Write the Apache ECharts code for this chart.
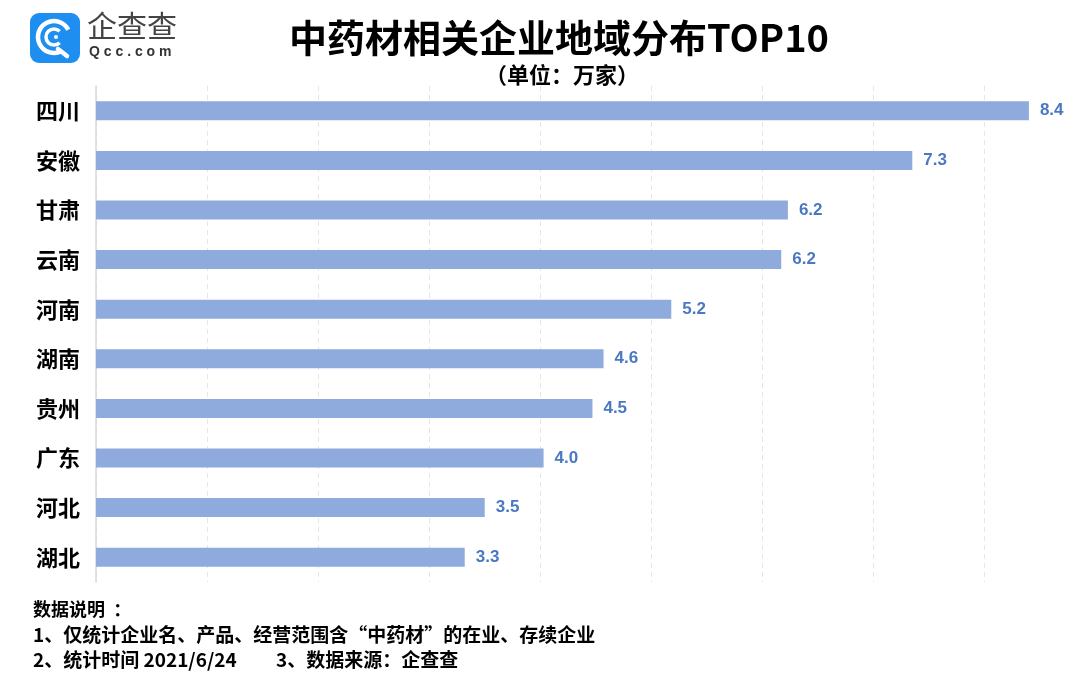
<!DOCTYPE html>
<html><head><meta charset="utf-8">
<script src="https://cdn.jsdelivr.net/npm/echarts@6/dist/echarts.min.js"></script>
<style>html,body{margin:0;padding:0;background:#fff}#c{width:1086px;height:686px}</style>
</head><body><div id="c"></div>
<script>
const categories = ['四川','安徽','甘肃','云南','河南','湖南','贵州','广东','河北','湖北'];
const values = [8.40, 7.35, 6.23, 6.17, 5.18, 4.57, 4.47, 4.03, 3.50, 3.32];
const valueLabels = ['8.4','7.3','6.2','6.2','5.2','4.6','4.5','4.0','3.5','3.3'];
const titleText = '中药材相关企业地域分布TOP10';
const subtitleText = '（单位：万家）';
const notes = ['数据说明  ：','1、仅统计企业名、产品、经营范围含“中药材”的在业、存续企业','2、统计时间 2021/6/24','3、数据来源：企查查'];

const cjk = '"Noto Sans CJK SC","Noto Sans",sans-serif';
const chart = echarts.init(document.getElementById('c'));
chart.setOption({
  backgroundColor:'#fff',
  animation:false,
  title:[
    {text:titleText,left:554,top:14,textAlign:'center',textStyle:{fontFamily:cjk,fontSize:38,fontWeight:'bold',color:'#000'}},
    {text:subtitleText,left:557,top:59,textAlign:'center',textStyle:{fontFamily:cjk,fontSize:22,fontWeight:'bold',color:'#000'}}
  ],
  grid:{left:96,right:46,top:86,bottom:104,containLabel:false},
  xAxis:{type:'value',min:0,max:8.5,interval:1,
    axisLine:{show:false},axisTick:{show:false},axisLabel:{show:false},
    splitLine:{show:true,showMaxLine:false,lineStyle:{type:[5,4],color:'#e6e6e6',width:1}}},
  yAxis:{type:'category',data:categories,inverse:true,
    axisLine:{show:true,lineStyle:{color:'#d9d9d9',width:1.5}},axisTick:{show:false},
    axisLabel:{margin:16,fontFamily:cjk,fontSize:22,fontWeight:'bold',color:'#000'}},
  series:[{type:'bar',data:values,barWidth:19,
    itemStyle:{color:'#8faadc'},
    label:{show:true,position:'right',distance:11,
      formatter:p=>valueLabels[p.dataIndex],
      fontFamily:'"Liberation Sans",Arial,sans-serif',fontSize:17,fontWeight:'bold',color:'#4a78c2'}}],
  graphic:[
    {type:'rect',shape:{x:30,y:13,width:50,height:50,r:9},style:{fill:'#1e8ff0'}},
    {type:'arc',shape:{cx:54,cy:37,r:16,startAngle:Math.PI*0.35,endAngle:Math.PI*1.85,clockwise:true},style:{stroke:'#fff',lineWidth:4.5,fill:null}},
    {type:'line',shape:{x1:58,y1:49,x2:67,y2:56},style:{stroke:'#fff',lineWidth:4.5,lineCap:'round'}},
    {type:'arc',shape:{cx:54,cy:37,r:8,startAngle:Math.PI*0.25,endAngle:Math.PI*1.75,clockwise:true},style:{stroke:'#fff',lineWidth:3.5,fill:null}},
    {type:'circle',shape:{cx:56,cy:37,r:2},style:{fill:'#fff'}},
    {type:'text',left:87,top:11,style:{text:'企查查',font:'normal 30px '+cjk,fill:'#444'}},
    {type:'text',left:89,top:45,style:{text:'Q c c . c o m',font:'bold 14px "Liberation Sans",Arial,sans-serif',fill:'#333'}},
    {type:'text',left:33,top:600,style:{text:notes[0],font:'bold 18px '+cjk,fill:'#000'}},
    {type:'text',left:33,top:625,style:{text:notes[1],font:'bold 19px '+cjk,fill:'#000'}},
    {type:'text',left:33,top:650,style:{text:notes[2],font:'bold 19px '+cjk,fill:'#000'}},
    {type:'text',left:276,top:650,style:{text:notes[3],font:'bold 19px '+cjk,fill:'#000'}}
  ]
});
</script></body></html>
